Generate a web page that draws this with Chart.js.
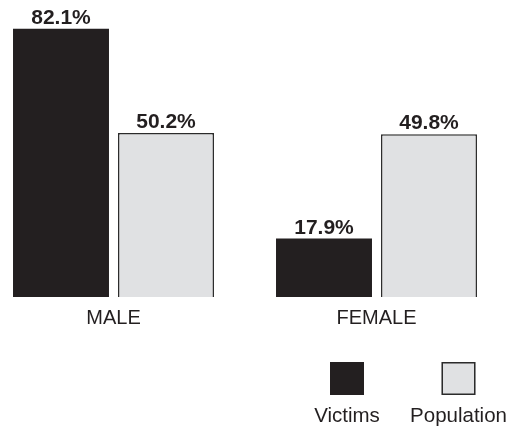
<!DOCTYPE html>
<html>
<head>
<meta charset="utf-8">
<script src="https://cdn.jsdelivr.net/npm/chart.js@4"></script>
<style>
  html, body { margin: 0; padding: 0; background: #fff; overflow: hidden; }
  #wrap { width: 509px; height: 426px; }
</style>
</head>
<body>
<div id="wrap"><canvas id="grafik" width="509" height="426"></canvas></div>
<script>
const categories = ["MALE", "FEMALE"];
const seriesNames = ["Victims", "Population"];
const victims = [82.1, 17.9];
const population = [50.2, 49.8];

const FONT = "'Liberation Sans', Arial, Helvetica, sans-serif";
const colors = {
  victims: "#231f20",
  population: "#e0e1e3",
  border: "#2b2b2b"
};

// label persen di atas tiap batang
const valueLabels = {
  id: "valueLabels",
  afterDatasetsDraw(chart) {
    const ctx = chart.ctx;
    ctx.save();
    ctx.font = "bold 21px " + FONT;
    ctx.fillStyle = "#231f20";
    ctx.textAlign = "center";
    ctx.textBaseline = "alphabetic";
    chart.data.datasets.forEach((ds, i) => {
      chart.getDatasetMeta(i).data.forEach((bar, j) => {
        ctx.fillText(ds.data[j].toFixed(1) + "%", bar.x, bar.y - 5);
      });
    });
    ctx.restore();
  }
};

// legenda: kotak di atas, teks di bawah
const legendBawah = {
  id: "legendBawah",
  afterDraw(chart) {
    const ctx = chart.ctx;
    const centers = [347, 458.5];
    const boxW = 34, boxH = 33, top = 362;
    ctx.save();
    chart.data.datasets.forEach((ds, i) => {
      const cx = centers[i];
      ctx.fillStyle = ds.backgroundColor;
      ctx.fillRect(cx - boxW / 2, top, boxW, boxH);
      if (ds.borderWidth) {
        ctx.lineWidth = 1.5;
        ctx.strokeStyle = ds.borderColor;
        ctx.strokeRect(cx - boxW / 2 + 0.75, top + 0.75, boxW - 1.5, boxH - 1.5);
      }
      ctx.font = "20.5px " + FONT;
      ctx.fillStyle = "#231f20";
      ctx.textAlign = "center";
      ctx.textBaseline = "alphabetic";
      ctx.fillText(ds.label, cx, 422);
    });
    ctx.restore();
  }
};

new Chart(document.getElementById("grafik"), {
  type: "bar",
  data: {
    labels: categories,
    datasets: [
      {
        label: seriesNames[0],
        data: victims,
        backgroundColor: colors.victims,
        borderWidth: 0,
        clip: false,
        categoryPercentage: 0.7985,
        barPercentage: 0.914
      },
      {
        label: seriesNames[1],
        data: population,
        backgroundColor: colors.population,
        borderColor: colors.border,
        borderWidth: 1.5,
        clip: false,
        categoryPercentage: 0.7985,
        barPercentage: 0.914
      }
    ]
  },
  options: {
    responsive: false,
    animation: false,
    layout: { padding: { left: 113.5, right: 132.5, top: 3, bottom: 87 } },
    plugins: {
      legend: { display: false },
      tooltip: { enabled: false }
    },
    scales: {
      x: {
        offset: false,
        grid: { display: false, drawTicks: false },
        border: { display: false },
        ticks: {
          padding: 9,
          color: "#231f20",
          font: { family: FONT, size: 20 }
        }
      },
      y: {
        display: false,
        min: 0,
        max: 90
      }
    }
  },
  plugins: [valueLabels, legendBawah]
});
</script>
</body>
</html>
